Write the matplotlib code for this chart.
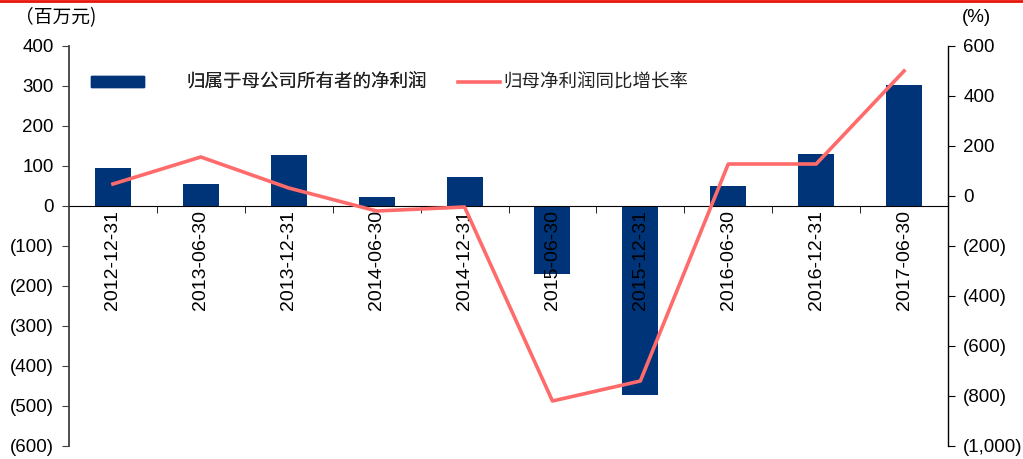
import matplotlib
matplotlib.use("Agg")
import matplotlib.pyplot as plt
from matplotlib.lines import Line2D
from matplotlib.patches import Patch
from matplotlib.ticker import FuncFormatter, FixedLocator
import numpy as np

plt.rcParams['font.family'] = ['Liberation Sans', 'Noto Sans CJK SC', 'DejaVu Sans']

dates = ["2012-12-31", "2013-06-30", "2013-12-31", "2014-06-30", "2014-12-31",
         "2015-06-30", "2015-12-31", "2016-06-30", "2016-12-31", "2017-06-30"]
net_profit = [95, 55, 127, 22, 72, -170, -472, 50, 130, 302]
growth_rate = [48, 156, 32, -60, -44, -820, -740, 128, 128, 500]

bar_label = "归属于母公司所有者的净利润"
line_label = "归母净利润同比增长率"

BAR_COLOR = "#003478"
LINE_COLOR = "#FF6B6B"
SPINE_COLOR = "#404040"
FS = 13.5

fig = plt.figure(figsize=(10.23, 4.59), dpi=100)
ax = fig.add_axes([69 / 1023, 1 - 446 / 459, (948 - 69) / 1023, 400 / 459])
ax2 = ax.twinx()

x = np.arange(len(dates))
ax.bar(x, net_profit, width=0.41, color=BAR_COLOR, zorder=1)
ax.set_axisbelow(False)
ax2.plot(x, growth_rate, color=LINE_COLOR, lw=2.6, zorder=3)

ax.set_xlim(-0.5, len(dates) - 0.5)
ax.set_ylim(-600, 400)
ax.set_yticks(np.arange(-600, 401, 100))
ax2.set_ylim(-1000, 600)
ax2.set_yticks(np.arange(-1000, 601, 200))

def paren_fmt(v, pos):
    if v < 0:
        return "({:,.0f})".format(-v)
    return "{:,.0f}".format(v)

ax.yaxis.set_major_formatter(FuncFormatter(paren_fmt))
ax2.yaxis.set_major_formatter(FuncFormatter(paren_fmt))

# x axis sits on the zero line, ticks between categories
for s in ["top", "right"]:
    ax.spines[s].set_visible(False)
for s in ["top", "left", "bottom"]:
    ax2.spines[s].set_visible(False)
ax.spines["bottom"].set_position(("data", 0))
ax.spines["bottom"].set_color("black")
ax.spines["left"].set_color(SPINE_COLOR)
ax.spines["left"].set_linewidth(1.3)
ax2.spines["right"].set_color("black")
ax2.spines["right"].set_linewidth(1.0)

ax.set_xticks(x)
ax.set_xticklabels(dates, rotation=90, fontsize=14, va="top")
ax.tick_params(axis="x", which="major", length=0, pad=3)
ax.xaxis.set_minor_locator(FixedLocator(np.arange(0.5, len(dates) - 0.5, 1)))
ax.tick_params(axis="x", which="minor", length=5, direction="out", color="black")
ax.tick_params(axis="y", labelsize=FS, length=5, color=SPINE_COLOR, pad=6)
ax2.tick_params(axis="y", labelsize=FS, length=5, color="black", pad=6)

# unit labels
fig.text(15 / 1023, 1 - 18 / 459, "（百万元)", fontsize=FS, ha="left", va="center",
         family=["Noto Sans CJK SC", "Liberation Sans"])
fig.text(962 / 1023, 1 - 18 / 459, "(%)", fontsize=FS, ha="left", va="center")

# legend entries
leg_fs = 13.3
leg1 = fig.legend(handles=[Patch(color=BAR_COLOR)], labels=[bar_label],
                  loc="center left", bbox_to_anchor=(91 / 1023, 1 - 83 / 459),
                  frameon=False, handlelength=2.85, handleheight=0.5,
                  handletextpad=2.3, borderpad=0, borderaxespad=0,
                  labelcolor="#222222",
                  prop={"family": ["Noto Sans CJK SC"], "size": leg_fs})
leg2 = fig.legend(handles=[Line2D([], [], color=LINE_COLOR, lw=2.6)], labels=[line_label],
                  loc="center left", bbox_to_anchor=(458 / 1023, 1 - 83 / 459),
                  frameon=False, handlelength=2.3,
                  handletextpad=0.15, borderpad=0, borderaxespad=0,
                  labelcolor="#222222",
                  prop={"family": ["Noto Sans CJK SC"], "size": leg_fs})
fig.add_artist(leg1)

# red rule along the top edge
fig.add_artist(Line2D([0, 1], [1 - 1 / 459, 1 - 1 / 459], color="#E8140A", lw=2.0,
                      transform=fig.transFigure))

fig.savefig("out.png", dpi=100)
